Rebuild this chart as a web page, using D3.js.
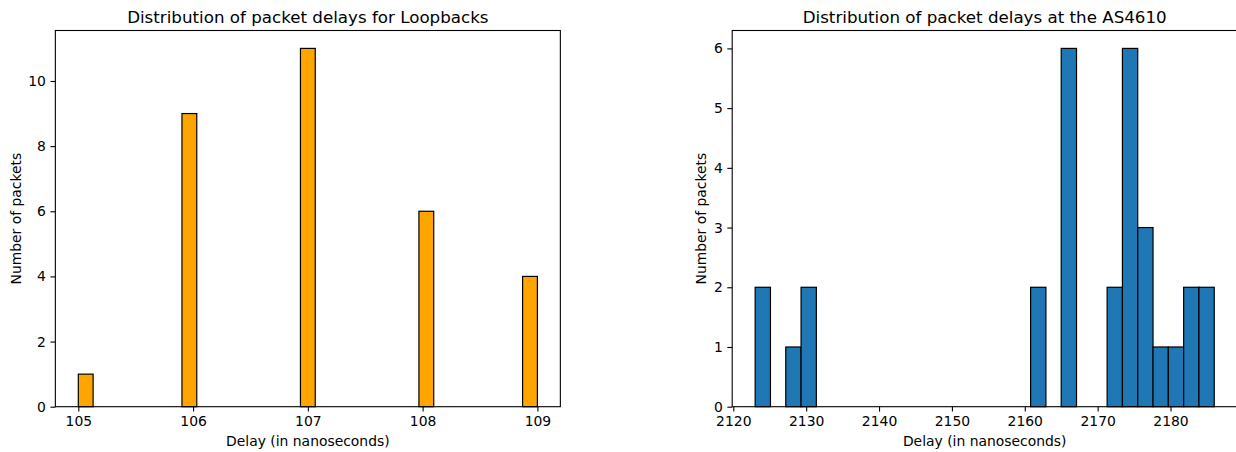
<!DOCTYPE html>
<html>
<head>
<meta charset="utf-8">
<script src="https://cdn.jsdelivr.net/npm/d3@7/dist/d3.min.js"></script>
<style>
  html, body { margin: 0; padding: 0; background: #fff; }
  svg { display: block; }
  text { font-family: "DejaVu Sans", sans-serif; fill: #000; }
</style>
</head>
<body>
<svg id="chart" width="1236" height="452"></svg>
<script>
// ---------- Data ----------
// Left histogram: delays for loopbacks (31 equal bins over [105, 109])
const loopRange = [105, 109];
const loopCounts = [1,0,0,0,0,0,0,9,0,0,0,0,0,0,0,11,0,0,0,0,0,0,0,6,0,0,0,0,0,0,4];
const loopXTicks = [105, 106, 107, 108, 109];
const loopYTicks = [0, 2, 4, 6, 8, 10];

// Right histogram: delays at the AS4610 (30 equal bins over [2123, 2186])
const asRange = [2123, 2186];
const asCounts = [2,0,1,2,0,0,0,0,0,0,0,0,0,0,0,0,0,0,2,0,6,0,0,2,6,3,1,1,2,2];
const asXTicks = [2120, 2130, 2140, 2150, 2160, 2170, 2180];
const asYTicks = [0, 1, 2, 3, 4, 5, 6];

const titles = ["Distribution of packet delays for Loopbacks", "Distribution of packet delays at the AS4610"];
const xLabel = "Delay (in nanoseconds)";
const yLabel = "Number of packets";
const colors = ["#FFA500", "#1f77b4"];

// ---------- Drawing ----------
const svg = d3.select("#chart");
const plotTop = 30.5, plotBottom = 406.7;

function drawPanel(opts) {
  const { left, width, range, counts, xTicks, yTicks, color, title } = opts;
  const n = counts.length;
  const span = range[1] - range[0];
  const bw = span / n;
  const bins = counts.map((c, i) => ({ x0: range[0] + i * bw, x1: range[0] + (i + 1) * bw, c }));
  const maxC = d3.max(counts);

  const x = d3.scaleLinear()
    .domain([range[0] - 0.05 * span, range[1] + 0.05 * span])
    .range([left, left + width]);
  const y = d3.scaleLinear().domain([0, maxC * 1.05]).range([plotBottom, plotTop]);

  const g = svg.append("g");

  // bars
  g.append("g").selectAll("rect")
    .data(bins.filter(b => b.c > 0))
    .join("rect")
    .attr("x", d => x(d.x0))
    .attr("y", d => y(d.c))
    .attr("width", d => x(d.x1) - x(d.x0))
    .attr("height", d => y(0) - y(d.c))
    .attr("fill", color)
    .attr("stroke", "#000")
    .attr("stroke-width", 1.2);

  // x axis
  const xa = g.append("g")
    .attr("transform", `translate(0,${plotBottom})`)
    .call(d3.axisBottom(x).tickValues(xTicks).tickFormat(d3.format("d")).tickSizeInner(4.9).tickSizeOuter(0).tickPadding(4.5));
  // y axis
  const ya = g.append("g")
    .attr("transform", `translate(${left},0)`)
    .call(d3.axisLeft(y).tickValues(yTicks).tickFormat(d3.format("d")).tickSizeInner(4.9).tickSizeOuter(0).tickPadding(4.5));
  [xa, ya].forEach(a => {
    a.select(".domain").remove();
    a.selectAll(".tick line").attr("stroke", "#000").attr("stroke-width", 1.1);
    a.selectAll(".tick text").attr("font-size", "13.9px").attr("font-family", "DejaVu Sans, sans-serif").attr("fill", "#000");
  });

  // spines
  g.append("rect")
    .attr("x", left).attr("y", plotTop)
    .attr("width", width).attr("height", plotBottom - plotTop)
    .attr("fill", "none").attr("stroke", "#000").attr("stroke-width", 1.1);

  // title
  g.append("text")
    .attr("x", left + width / 2).attr("y", 22.5)
    .attr("text-anchor", "middle").attr("font-size", "16.7px")
    .text(title);
  // x label
  g.append("text")
    .attr("x", left + width / 2).attr("y", 446)
    .attr("text-anchor", "middle").attr("font-size", "13.9px")
    .text(xLabel);
  // y label
  const yl = opts.yLabelX;
  g.append("text")
    .attr("transform", `translate(${yl},${(plotTop + plotBottom) / 2}) rotate(-90)`)
    .attr("text-anchor", "middle").attr("font-size", "13.9px")
    .text(yLabel);
}

drawPanel({ left: 55.35, width: 505, range: loopRange, counts: loopCounts, xTicks: loopXTicks, yTicks: loopYTicks, color: colors[0], title: titles[0], yLabelX: 21 });
drawPanel({ left: 732.2, width: 505, range: asRange, counts: asCounts, xTicks: asXTicks, yTicks: asYTicks, color: colors[1], title: titles[1], yLabelX: 706 });
</script>
</body>
</html>
